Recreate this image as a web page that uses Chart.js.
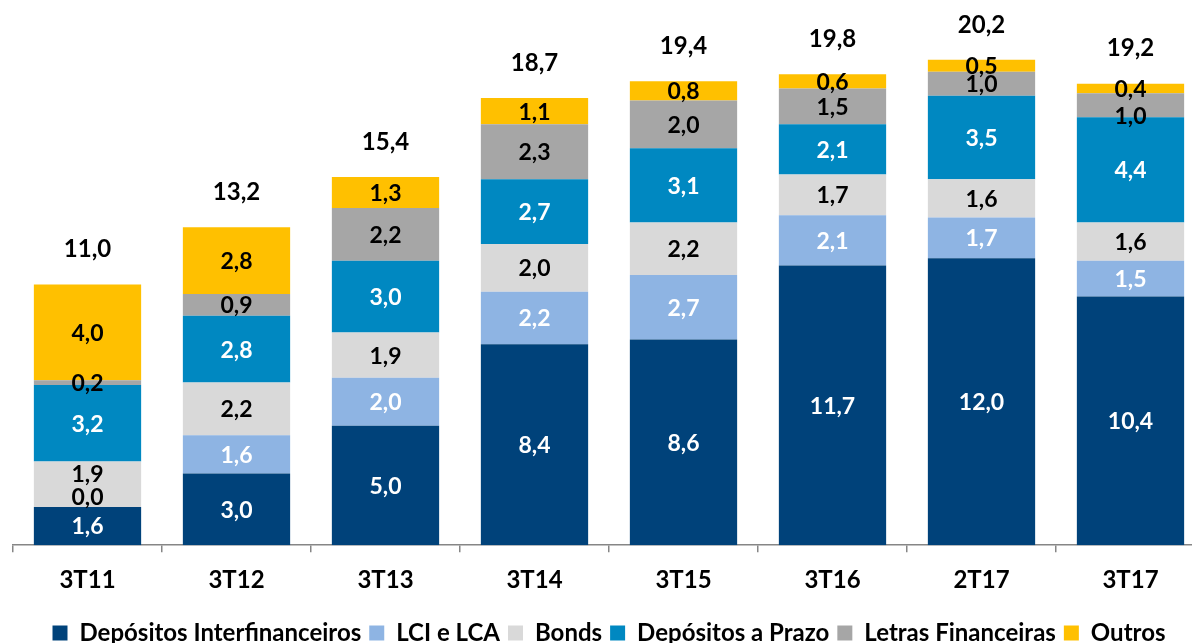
<!DOCTYPE html>
<html>
<head>
<meta charset="utf-8">
<script src="https://cdn.jsdelivr.net/npm/chart.js@4.4.1/dist/chart.umd.min.js"></script>
<style>
html,body{margin:0;padding:0;background:#fff;overflow:hidden;width:1192px;height:643px;}
#wrap{position:absolute;left:0;top:0;width:1215px;height:655px;}
</style>
</head>
<body>
<div id="wrap"><canvas id="c" width="1215" height="655"></canvas></div>
<script>
const categories = ['3T11','3T12','3T13','3T14','3T15','3T16','2T17','3T17'];
const depInterfin = [1.6, 3.0, 5.0, 8.4, 8.6, 11.7, 12.0, 10.4];
const lciLca      = [0.0, 1.6, 2.0, 2.2, 2.7, 2.1, 1.7, 1.5];
const bonds       = [1.9, 2.2, 1.9, 2.0, 2.2, 1.7, 1.6, 1.6];
const depPrazo    = [3.2, 2.8, 3.0, 2.7, 3.1, 2.1, 3.5, 4.4];
const letras      = [0.2, 0.9, 2.2, 2.3, 2.0, 1.5, 1.0, 1.0];
const outros      = [4.0, 2.8, 1.3, 1.1, 0.8, 0.6, 0.5, 0.4];
const totals      = [11.0, 13.2, 15.4, 18.7, 19.4, 19.8, 20.2, 19.2];

const FONT = 'Lato, "Open Sans", sans-serif';
const W = 'bold';
const fmt = v => v.toFixed(1).replace('.', ',');

const series = [
  {label:'Depósitos Interfinanceiros', data:depInterfin, color:'#00427A', text:'#ffffff'},
  {label:'LCI e LCA', data:lciLca, color:'#8EB4E3', text:'#ffffff'},
  {label:'Bonds', data:bonds, color:'#D9D9D9', text:'#000000'},
  {label:'Depósitos a Prazo', data:depPrazo, color:'#0088C1', text:'#ffffff'},
  {label:'Letras Financeiras', data:letras, color:'#A6A6A6', text:'#000000'},
  {label:'Outros', data:outros, color:'#FFC000', text:'#000000'}
];

// label nudges (dataset-category : dy px) to mimic overlap avoidance
const labelNudge = {'1-0': -10, '2-0': -11, '4-7': 10};

const labelPlugin = {
  id: 'valueLabels',
  afterDatasetsDraw(chart) {
    const ctx = chart.ctx;
    ctx.save();
    ctx.textAlign = 'center';
    ctx.textBaseline = 'middle';
    ctx.font = W + ' 23px ' + FONT;
    chart.data.datasets.forEach((ds, di) => {
      const meta = chart.getDatasetMeta(di);
      meta.data.forEach((el, i) => {
        const v = ds.data[i];
        let y = (el.y + el.base) / 2 + (labelNudge[di + '-' + i] || 0);
        ctx.fillStyle = v === 0 ? '#000000' : series[di].text;
        ctx.fillText(fmt(v), el.x, y + 1);
      });
    });
    const topMeta = chart.getDatasetMeta(chart.data.datasets.length - 1);
    ctx.font = W + ' 24px ' + FONT;
    ctx.fillStyle = '#000000';
    topMeta.data.forEach((el, i) => {
      const top = Math.min(el.y, el.base);
      ctx.fillText(fmt(totals[i]), el.x, top - 35);
    });
    ctx.restore();
  }
};

new Chart(document.getElementById('c'), {
  type: 'bar',
  data: {
    labels: categories,
    datasets: series.map(s => ({
      label: s.label,
      data: s.data,
      backgroundColor: s.color,
      borderWidth: 0,
      barPercentage: 0.72,
      categoryPercentage: 1.0
    }))
  },
  options: {
    responsive: false,
    animation: false,
    devicePixelRatio: 1,
    layout: {padding: {left: 13, right: 10, top: 0, bottom: 0}},
    scales: {
      x: {
        stacked: true,
        offset: true,
        grid: {display: true, drawOnChartArea: false, tickLength: 7, color: '#868686', lineWidth: 1.5, offset: true},
        border: {display: true, color: '#868686', width: 1.5},
        ticks: {color: '#000', font: {family: FONT, size: 24, weight: W}, padding: 14},
        afterFit(scale) { scale.height += 4; }
      },
      y: {
        stacked: true,
        display: false,
        min: 0,
        max: 22.8
      }
    },
    plugins: {
      legend: {
        position: 'bottom',
        labels: {
          boxWidth: 15,
          boxHeight: 15,
          padding: 8,
          color: '#000',
          font: {family: FONT, size: 24, weight: W}
        }
      },
      tooltip: {enabled: false}
    }
  },
  plugins: [labelPlugin]
});
</script>
</body>
</html>
